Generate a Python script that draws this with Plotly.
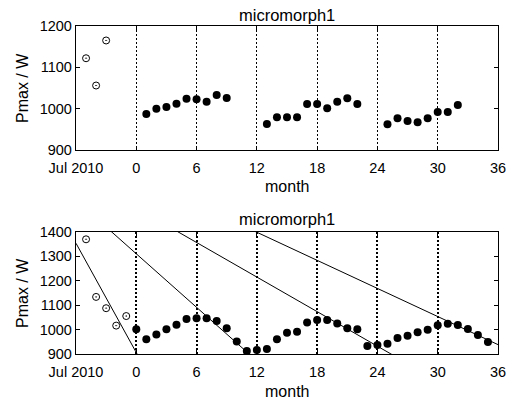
import plotly.graph_objects as go

# ---- data -------------------------------------------------------------
# upper panel: reference measurements before the monitoring period
top_pre_month = [-5, -4, -3]
top_pre_pmax = [1122, 1056, 1165]

# upper panel: monthly Pmax
top_month = [1, 2, 3, 4, 5, 6, 7, 8, 9,
             13, 14, 15, 16, 17, 18, 19, 20, 21, 22,
             25, 26, 27, 28, 29, 30, 31, 32]
top_pmax = [987, 1000, 1004, 1012, 1024, 1023, 1017, 1033, 1026,
            963, 979, 979, 979, 1011, 1011, 1001, 1017, 1025, 1011,
            962, 977, 970, 967, 977, 992, 992, 1009]

# lower panel: reference measurements
bot_pre_month = [-5, -4, -3, -2, -1]
bot_pre_pmax = [1369, 1134, 1088, 1017, 1056]

# lower panel: monthly Pmax
bot_month = list(range(0, 36))
bot_pmax = [1002, 961, 981, 1002, 1021, 1044, 1047, 1047, 1036, 1006,
            952, 913, 918, 922, 961, 988, 992, 1030, 1040, 1040,
            1026, 1006, 1002, 934, 938, 943, 966, 976, 990, 1000,
            1018, 1025, 1019, 1003, 979, 950]

# lower panel: straight reference lines (Pmax at month 0, W per month)
line_intercept = [907, 1310, 1497, 1627]
line_slope = [-74.3, -36.4, -23.5, -19.1]

x_ticks = [-6, 0, 6, 12, 18, 24, 30, 36]
x_ticklabels = ["Jul 2010", "0", "6", "12", "18", "24", "30", "36"]
x_range = [-6, 36]

# ---- figure -----------------------------------------------------------
W, H = 507, 401
FONT = "Liberation Sans, Arial, sans-serif"

fig = go.Figure()

dot = dict(symbol="circle", size=8, color="black", line=dict(width=0))
ring = dict(symbol="circle-open-dot", size=7, color="black", line=dict(width=1))

fig.add_trace(go.Scatter(x=top_pre_month, y=top_pre_pmax, mode="markers",
                         marker=ring, xaxis="x", yaxis="y"))
fig.add_trace(go.Scatter(x=top_month, y=top_pmax, mode="markers",
                         marker=dot, xaxis="x", yaxis="y"))

for b, m in zip(line_intercept, line_slope):
    fig.add_trace(go.Scatter(x=x_range, y=[b + m * x for x in x_range],
                             mode="lines", line=dict(color="black", width=1),
                             xaxis="x2", yaxis="y2"))
fig.add_trace(go.Scatter(x=bot_pre_month, y=bot_pre_pmax, mode="markers",
                         marker=ring, xaxis="x2", yaxis="y2"))
fig.add_trace(go.Scatter(x=bot_month, y=bot_pmax, mode="markers",
                         marker=dot, xaxis="x2", yaxis="y2"))

xdom = [76 / W, 498 / W]
top_dom = [(H - 150) / H, (H - 26) / H]
bot_dom = [(H - 354.3) / H, (H - 231.7) / H]

tickfont = dict(family=FONT, size=14.5, color="black")


def xaxis(anchor, grid_w):
    return dict(domain=xdom, anchor=anchor, range=x_range, automargin=False,
                tickmode="array", tickvals=x_ticks, ticktext=x_ticklabels,
                ticks="inside", ticklen=4, tickcolor="black", ticklabelstandoff=4,
                showline=True, linecolor="black", linewidth=1.3, mirror="allticks",
                showgrid=True, gridcolor="black", gridwidth=grid_w, griddash="2px,2px",
                zeroline=False, tickfont=tickfont, fixedrange=True)


def yaxis(anchor, dom, rng, step):
    return dict(domain=dom, anchor=anchor, range=rng, dtick=step, tick0=0,
                automargin=False,
                ticks="inside", ticklen=4, tickcolor="black",
                showline=True, linecolor="black", linewidth=1.3, mirror="allticks",
                showgrid=False, zeroline=False, tickfont=tickfont, fixedrange=True)


annotations = []
for yc_title, yc_month, yc_mid in [(14.5, 186.5, 88), (218.5, 391.5, 293)]:
    annotations.append(dict(text="micromorph1", x=(76 + 498) / 2 / W, y=1 - yc_title / H,
                            xref="paper", yref="paper", showarrow=False,
                            xanchor="center", yanchor="middle",
                            font=dict(family=FONT, size=16.5, color="black")))
    annotations.append(dict(text="month", x=(76 + 498) / 2 / W, y=1 - yc_month / H,
                            xref="paper", yref="paper", showarrow=False,
                            xanchor="center", yanchor="middle",
                            font=dict(family=FONT, size=16, color="black")))
    annotations.append(dict(text="Pmax / W", x=22 / W, y=1 - yc_mid / H,
                            xref="paper", yref="paper", showarrow=False,
                            textangle=-90, xanchor="center", yanchor="middle",
                            font=dict(family=FONT, size=16, color="black")))

fig.update_layout(
    width=W, height=H,
    margin=dict(l=0, r=0, t=0, b=0),
    paper_bgcolor="white", plot_bgcolor="white",
    showlegend=False,
    xaxis=xaxis("y", 1),
    yaxis=yaxis("x", top_dom, [900, 1200], 100),
    xaxis2=xaxis("y2", 1.5),
    yaxis2=yaxis("x2", bot_dom, [900, 1400], 100),
    annotations=annotations,
)

fig.write_html("out.html")
